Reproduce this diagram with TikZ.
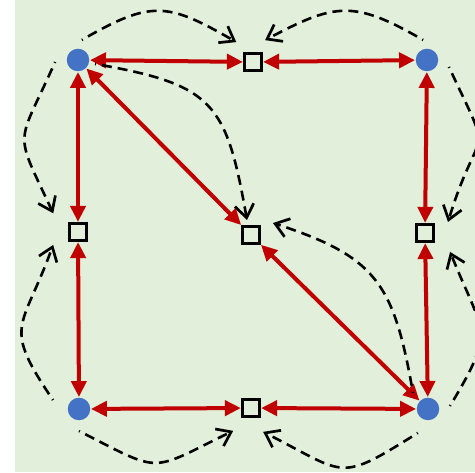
\documentclass[tikz,border=0pt]{standalone}
\usetikzlibrary{arrows.meta,calc}
\definecolor{panelgreen}{HTML}{E2EFDA}
\definecolor{hubblue}{HTML}{4472C4}
\definecolor{linkred}{HTML}{C00000}
\begin{document}
\begin{tikzpicture}[x=1pt,y=1pt,
  hub/.style={circle,fill=hubblue,draw=none,minimum size=22.5pt,inner sep=0pt},
  port/.style={rectangle,draw=black,line width=2.4pt,minimum size=16.8pt,inner sep=0pt},
  link/.style={draw=linkred,line width=4pt,
    {Triangle[length=16pt,width=15pt]}-{Triangle[length=16pt,width=15pt]},
    shorten <=0.5pt,shorten >=0.5pt},
  flow/.style={draw=black,line width=2.6pt,dash pattern=on 10pt off 6pt,dash phase=9pt,
    -{Straight Barb[length=13pt,width=19pt,line width=2.7pt]}}]
\useasboundingbox (0,0) rectangle (475,473);
\fill[panelgreen] (15,1) rectangle (475,473);

% corner hubs
\node[hub] (A) at (78,413) {};
\node[hub] (B) at (427,413) {};
\node[hub] (C) at (79,64) {};
\node[hub] (D) at (428,64) {};
% ports
\node[port] (T) at (253,411) {};
\node[port] (L) at (78,241) {};
\node[port] (M) at (251,238) {};
\node[port] (R) at (425,240) {};
\node[port] (Bo) at (251,65) {};

% two-way links
\draw[link] (A) -- (T);
\draw[link] (B) -- (T);
\draw[link] (A) -- (L);
\draw[link] (C) -- (L);
\draw[link] (B) -- (R);
\draw[link] (D) -- (R);
\draw[link] (C) -- (Bo);
\draw[link] (D) -- (Bo);
\draw[link] (A) -- (M);
\draw[link] (D) -- (M);

% dashed flows
\draw[flow] ($(A)+(79:20.4)$) .. controls +(30:80) and +(150:80) .. ($(T)+(130:26)$);
\draw[flow] ($(B)+(101:20.4)$) .. controls +(150:80) and +(28:80) .. ($(T)+(61:25)$);
\draw[flow] ($(A)+(-13:17.5)$) .. controls +(-10:120) and +(100:120) .. ($(M)+(105:15.5)$);
\draw[flow] ($(D)+(133:22)$) .. controls +(100:110) and +(-18:110) .. ($(M)+(28.6:25)$);
\draw[flow] ($(A)+(185:23)$) .. controls +(246:95) and +(115:95) .. ($(L)+(143:31)$);
\draw[flow] ($(C)+(161:27.5)$) .. controls +(124:92) and +(250:92) .. ($(L)+(207.5:28)$);
\draw[flow] ($(B)+(-17.6:23)$) .. controls +(-65:110) and +(73:110) .. ($(R)+(25.6:25.5)$);
\draw[flow] ($(D)+(7.8:22.2)$) .. controls +(59:90) and +(292:90) .. ($(R)+(-37:31.4)$);
\draw[flow] ($(C)+(270:22)$) .. controls +(-27:95) and +(206:95) .. ($(Bo)+(232:29)$);
\draw[flow] ($(D)+(247:26)$) .. controls +(212:95) and +(-27:95) .. ($(Bo)+(-63:26.8)$);
\end{tikzpicture}
\end{document}
